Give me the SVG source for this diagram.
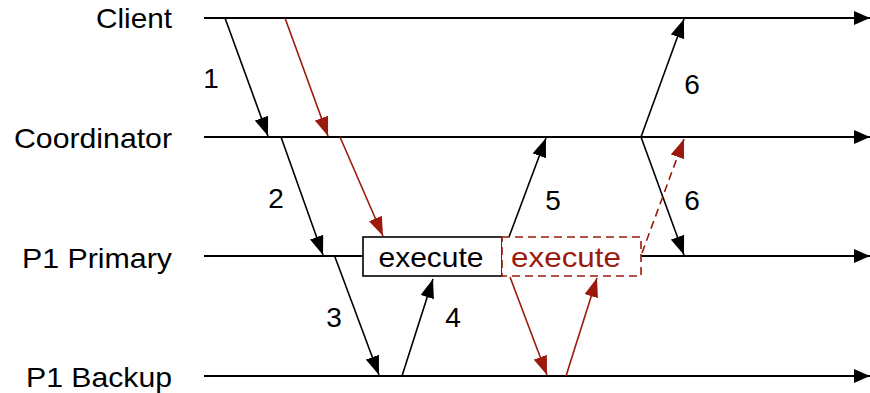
<svg xmlns="http://www.w3.org/2000/svg" width="870" height="393" viewBox="0 0 870 393">
<style>
.lbl{font-family:"Liberation Sans",Arial,Helvetica,sans-serif;font-size:28px;fill:#000}
.tl{stroke:#000;stroke-width:2;fill:none}
.msg{stroke:#000;stroke-width:1.6;fill:none}
.red{stroke:#9b1a0c;stroke-width:1.6;fill:none}
.dash{stroke-dasharray:8,5}
</style>
<defs>
<marker id="ah" markerUnits="userSpaceOnUse" markerWidth="16" markerHeight="14" refX="16" refY="7" orient="auto"><path d="M0,0 L16,7 L0,14 z" fill="#000"/></marker>
<marker id="am" markerUnits="userSpaceOnUse" markerWidth="19" markerHeight="14" refX="19" refY="7" orient="auto"><path d="M0,0 L19,7 L0,14 z" fill="#000"/></marker>
<marker id="ar" markerUnits="userSpaceOnUse" markerWidth="19" markerHeight="14" refX="19" refY="7" orient="auto"><path d="M0,0 L19,7 L0,14 z" fill="#9b1a0c"/></marker>
</defs>
<g id="lifelines">
<line class="tl" x1="204" y1="18" x2="870" y2="18" marker-end="url(#ah)"/>
<line class="tl" x1="204" y1="137" x2="870" y2="137" marker-end="url(#ah)"/>
<line class="tl" x1="204" y1="256" x2="870" y2="256" marker-end="url(#ah)"/>
<line class="tl" x1="204" y1="376" x2="870" y2="376" marker-end="url(#ah)"/>
</g>
<g id="labels">
<text class="lbl" x="172" y="28" text-anchor="end" textLength="76" lengthAdjust="spacingAndGlyphs">Client</text>
<text class="lbl" x="172" y="148" text-anchor="end" textLength="158" lengthAdjust="spacingAndGlyphs">Coordinator</text>
<text class="lbl" x="172" y="268" text-anchor="end" textLength="150" lengthAdjust="spacingAndGlyphs">P1 Primary</text>
<text class="lbl" x="172" y="387" text-anchor="end" textLength="146" lengthAdjust="spacingAndGlyphs">P1 Backup</text>
</g>
<g id="connectors">
<line class="msg" x1="225" y1="18" x2="268" y2="136" marker-end="url(#am)"/>
<line class="red" x1="285" y1="18" x2="328" y2="136" marker-end="url(#ar)"/>
<line class="msg" x1="281" y1="137" x2="323" y2="255" marker-end="url(#am)"/>
<line class="red" x1="340" y1="137" x2="383" y2="236" marker-end="url(#ar)"/>
<line class="msg" x1="335" y1="257" x2="379" y2="375" marker-end="url(#am)"/>
<line class="msg" x1="402" y1="376" x2="433" y2="279" marker-end="url(#am)"/>
<line class="msg" x1="509" y1="237" x2="546" y2="138" marker-end="url(#am)"/>
<line class="red" x1="510" y1="277" x2="547" y2="375" marker-end="url(#ar)"/>
<line class="red" x1="566" y1="376" x2="597" y2="278" marker-end="url(#ar)"/>
<line class="msg" x1="641" y1="137" x2="684" y2="19" marker-end="url(#am)"/>
<line class="msg" x1="641" y1="137" x2="684" y2="255" marker-end="url(#am)"/>
<line class="red dash" x1="642" y1="253" x2="684" y2="139" marker-end="url(#ar)"/>
</g>
<g id="exec-primary">
<rect x="363" y="237" width="139" height="39" fill="#fff" stroke="#000" stroke-width="1.6"/>
<text class="lbl" x="431" y="267" text-anchor="middle" textLength="105" lengthAdjust="spacingAndGlyphs">execute</text>
</g>
<g id="exec-retry">
<rect x="502" y="237" width="139" height="39" fill="#fff" stroke="#9b1a0c" stroke-width="1.6" stroke-dasharray="8,5"/>
<text class="lbl" x="566" y="267" text-anchor="middle" textLength="110" lengthAdjust="spacingAndGlyphs" style="fill:#9b1a0c">execute</text>
</g>
<g id="step-labels">
<text class="lbl" x="211" y="88" text-anchor="middle">1</text>
<text class="lbl" x="276" y="208" text-anchor="middle">2</text>
<text class="lbl" x="334" y="327" text-anchor="middle">3</text>
<text class="lbl" x="453" y="327" text-anchor="middle">4</text>
<text class="lbl" x="553" y="210" text-anchor="middle">5</text>
<text class="lbl" x="692" y="94" text-anchor="middle">6</text>
<text class="lbl" x="692" y="210" text-anchor="middle">6</text>
</g>
</svg>
